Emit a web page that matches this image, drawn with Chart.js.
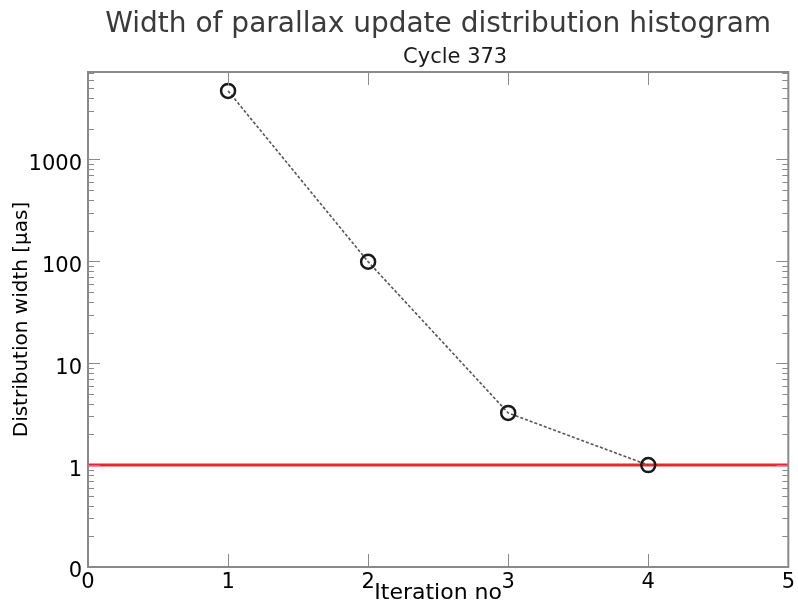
<!DOCTYPE html>
<html>
<head>
<meta charset="utf-8">
<script src="https://cdn.jsdelivr.net/npm/chart.js@4"></script>
<style>
  html, body { margin: 0; padding: 0; background: #fff; }
  #wrap { width: 798px; height: 608px; }
</style>
</head>
<body>
<div id="wrap"><canvas id="myChart" width="798" height="608"></canvas></div>
<script>
// iteration numbers and distribution widths [µas]
const iterations = [1, 2, 3, 4];
const widths = [4700, 99, 3.25, 1.0];

// red reference level at 1 µas across the whole x range
const refX = [0, 5];
const refLevel = 1;

const xTicks = [0, 1, 2, 3, 4, 5];
const yTicks = [0.1, 1, 10, 100, 1000];
const yMin = 0.1;
const yMax = 7200;

const titleText = "Width of parallax update distribution histogram";
const subtitleText = "Cycle 373";

const FONT = "'DejaVu Sans', Verdana, sans-serif";

// titles are placed over the plot area, not the whole canvas
const titlesPlugin = {
  id: "titles",
  afterDraw(chart) {
    const { ctx, chartArea } = chart;
    const cx = (chartArea.left + chartArea.right) / 2;
    ctx.save();
    ctx.textAlign = "center";
    ctx.textBaseline = "alphabetic";
    ctx.fillStyle = "#3a3a3a";
    ctx.font = "28px " + FONT;
    ctx.fillText(titleText, cx, 32);
    ctx.fillStyle = "#1a1a1a";
    ctx.font = "21px " + FONT;
    ctx.fillText(subtitleText, cx + 17, 63);
    ctx.restore();
  },
};

// box frame with inward ticks, log minor ticks on both sides
const framePlugin = {
  id: "frame",
  afterDatasetsDraw(chart) {
    const { ctx, chartArea, scales } = chart;
    const { left, right, top, bottom } = chartArea;
    ctx.save();
    ctx.strokeStyle = "#8a8a8a";
    ctx.lineWidth = 1;
    ctx.beginPath();
    xTicks.slice(1, -1).forEach((v) => {
      const px = Math.round(scales.x.getPixelForValue(v)) + 0.5;
      ctx.moveTo(px, bottom);
      ctx.lineTo(px, bottom - 13);
      ctx.moveTo(px, top);
      ctx.lineTo(px, top + 13);
    });
    for (let dec = 0.1; dec <= 1000; dec *= 10) {
      for (let m = 1; m <= 9; m++) {
        const v = dec * m;
        if (v > yMax || v < yMin) continue;
        const py = Math.round(scales.y.getPixelForValue(v)) + 0.5;
        const len = m === 1 ? 12 : 6;
        ctx.moveTo(left, py);
        ctx.lineTo(left + len, py);
        ctx.moveTo(right, py);
        ctx.lineTo(right - len, py);
      }
    }
    ctx.stroke();
    ctx.lineWidth = 2;
    ctx.strokeRect(left, top, right - left, bottom - top);
    ctx.restore();
  },
};

new Chart(document.getElementById("myChart"), {
  type: "line",
  data: {
    datasets: [
      {
        label: "width",
        data: iterations.map((x, i) => ({ x: x, y: widths[i] })),
        borderColor: "#555",
        borderWidth: 1.6,
        borderDash: [3, 2],
        pointStyle: "circle",
        pointRadius: 7,
        pointBorderWidth: 2.5,
        pointBorderColor: "#1a1a1a",
        pointBackgroundColor: "rgba(0,0,0,0)",
        tension: 0,
      },
      {
        label: "reference",
        data: refX.map((x) => ({ x: x, y: refLevel })),
        borderColor: "#e8282c",
        borderWidth: 3,
        pointRadius: 0,
        tension: 0,
      },
    ],
  },
  options: {
    responsive: false,
    animation: false,
    layout: {
      autoPadding: false,
      padding: { top: 72, right: 7, left: 0, bottom: 0 },
    },
    plugins: {
      legend: { display: false },
      tooltip: { enabled: false },
    },
    scales: {
      x: {
        type: "linear",
        min: 0,
        max: 5,
        afterBuildTicks: (scale) => {
          scale.ticks = xTicks.map((v) => ({ value: v }));
        },
        afterFit: (scale) => {
          scale.height = 41;
        },
        grid: { display: false, drawTicks: false },
        border: { display: false },
        ticks: {
          color: "#000",
          font: { family: FONT, size: 21 },
          padding: 3,
          maxRotation: 0,
        },
        title: {
          display: true,
          text: "Iteration no",
          color: "#000",
          font: { family: FONT, size: 22 },
          padding: { top: 0, bottom: 2 },
        },
      },
      y: {
        type: "logarithmic",
        min: yMin,
        max: yMax,
        afterBuildTicks: (scale) => {
          scale.ticks = yTicks.map((v) => ({ value: v }));
        },
        afterFit: (scale) => {
          scale.width = 88;
        },
        grid: { display: false, drawTicks: false },
        border: { display: false },
        ticks: {
          color: "#000",
          font: { family: FONT, size: 21 },
          padding: 6,
          labelOffset: 5,
          callback: (v) => (v < 1 ? "0" : String(Math.round(v))),
        },
        title: {
          display: true,
          text: "Distribution width [μas]",
          color: "#000",
          font: { family: FONT, size: 20 },
          padding: { top: 10, bottom: 0 },
        },
      },
    },
  },
  plugins: [titlesPlugin, framePlugin],
});
</script>
</body>
</html>
